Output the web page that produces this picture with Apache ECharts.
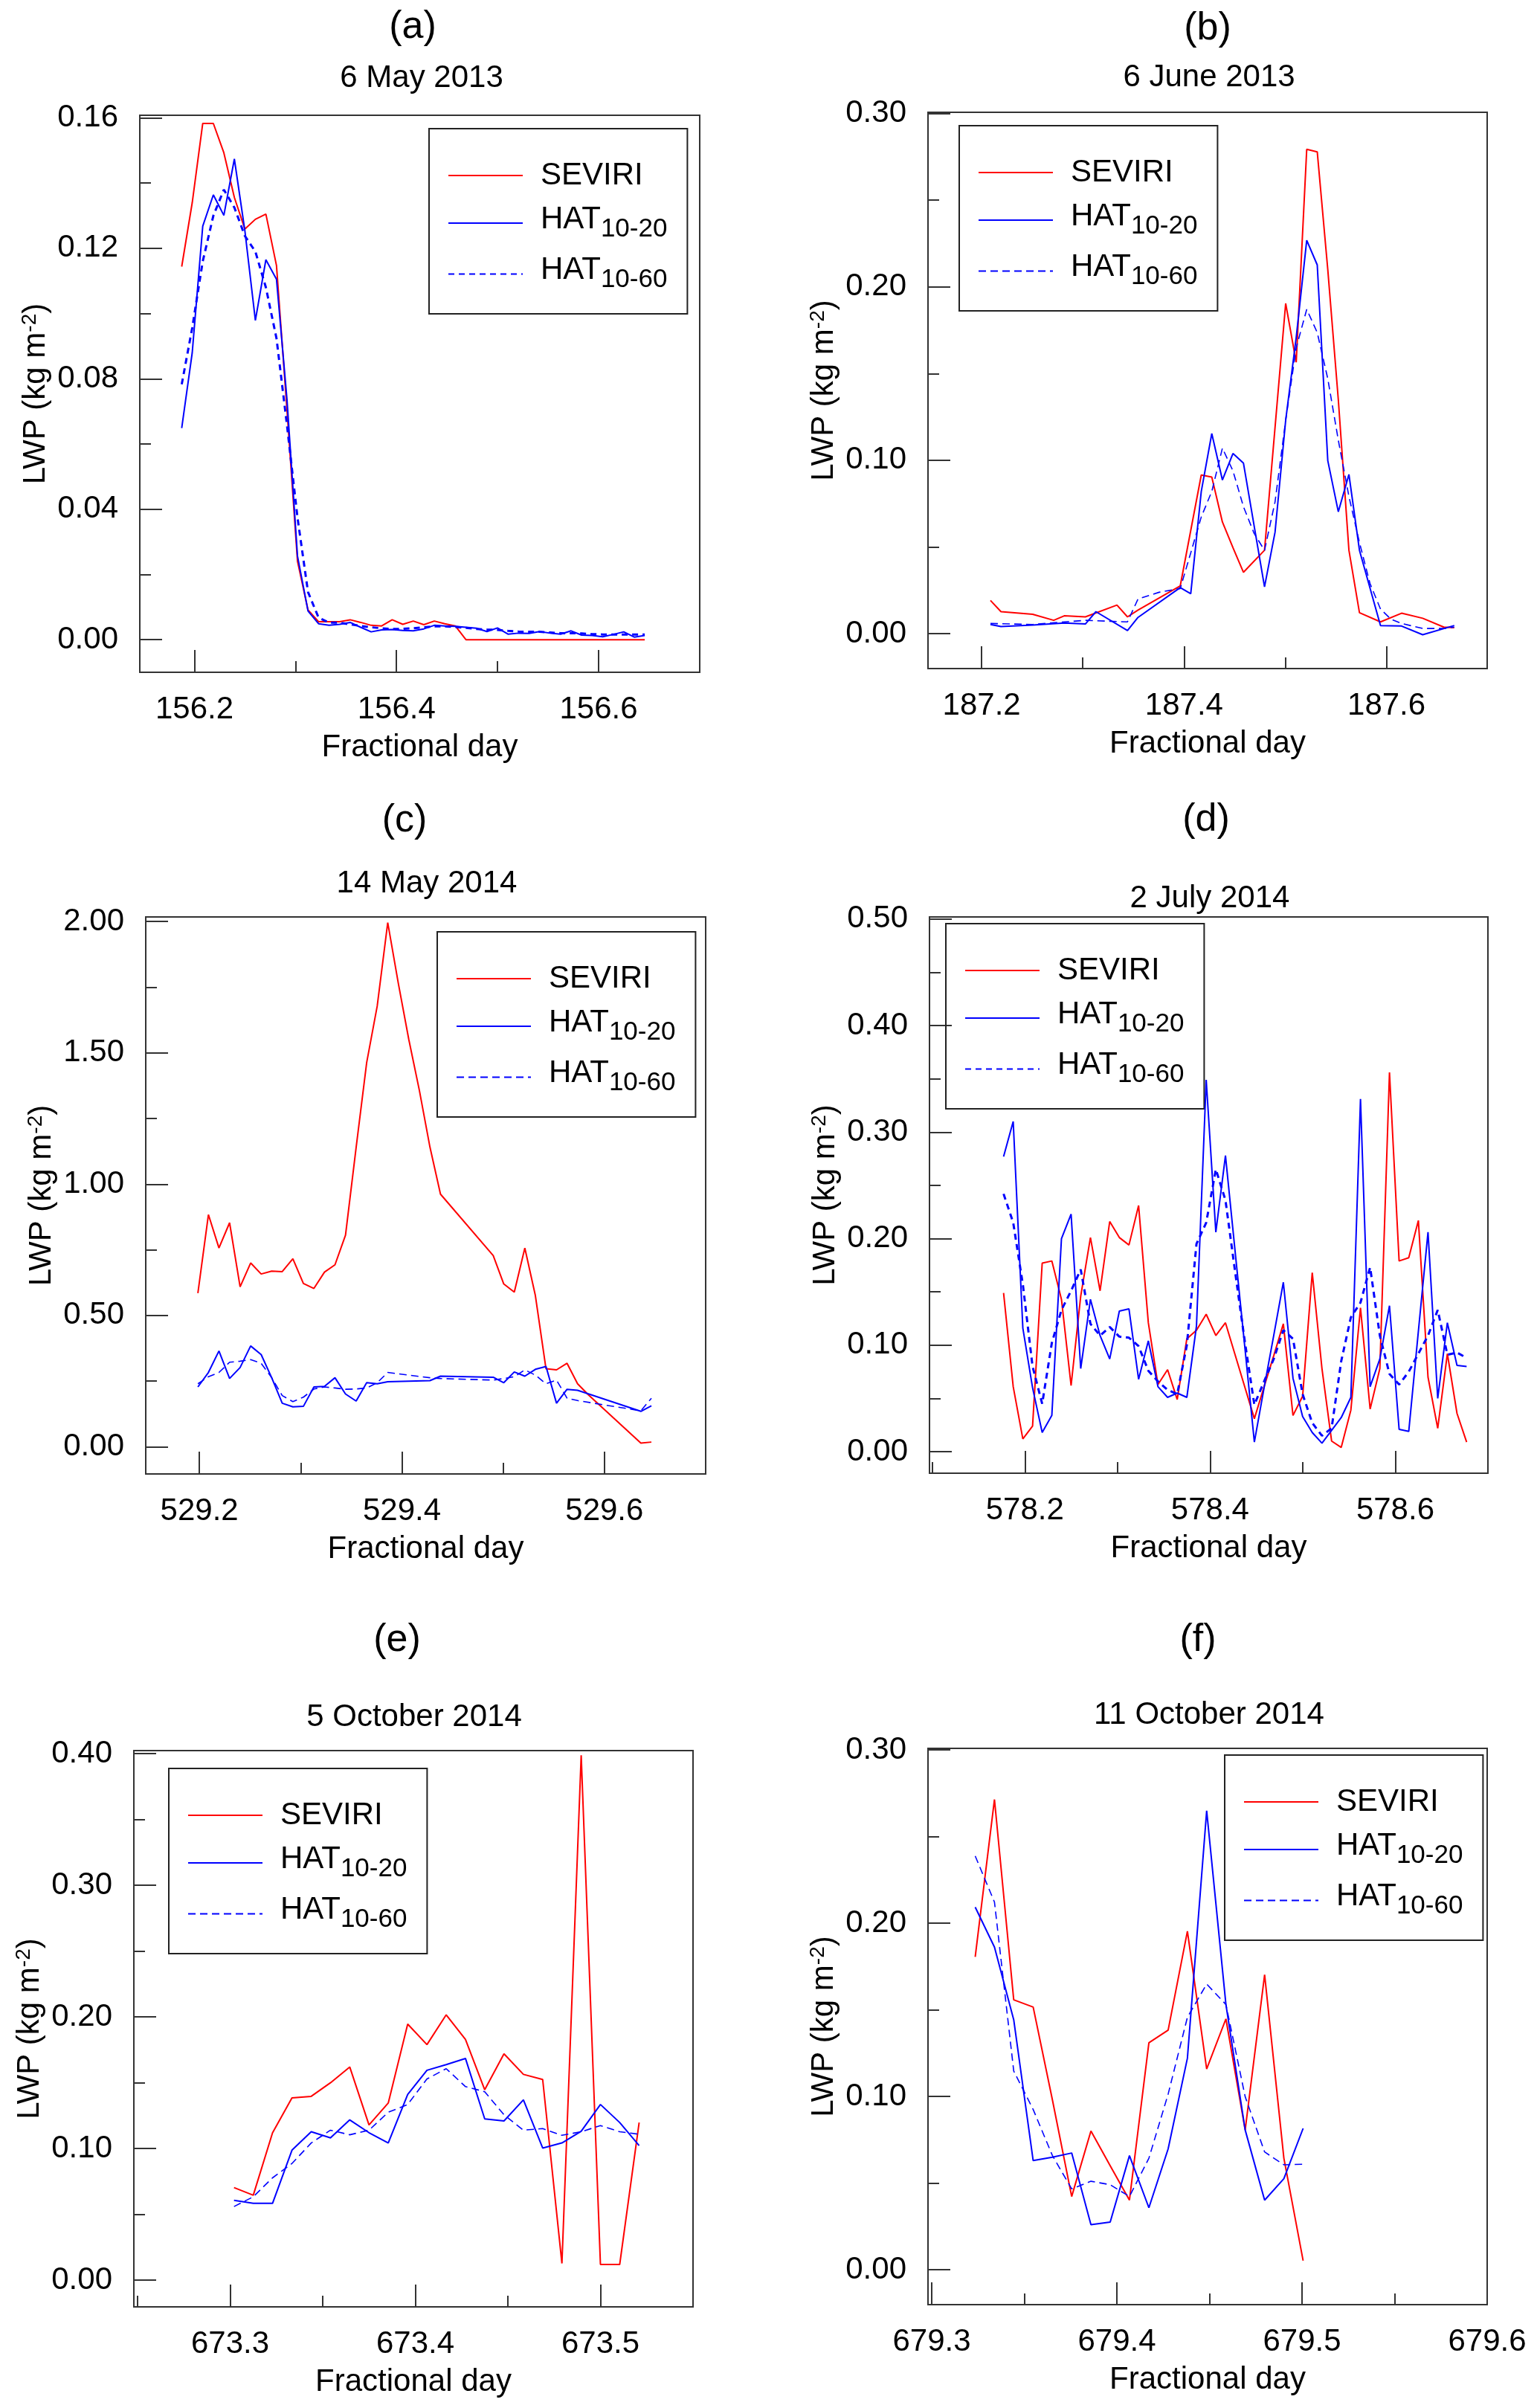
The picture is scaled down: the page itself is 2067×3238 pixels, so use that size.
<!DOCTYPE html>
<html><head><meta charset="utf-8">
<script src="https://cdn.jsdelivr.net/npm/echarts@6/dist/echarts.min.js"></script>
<style>html,body{margin:0;padding:0;background:#fff}#c{width:2067px;height:3238px}</style>
</head><body><div id="c"></div>
<script>
// ---------- (a) 6 May 2013 ----------
const aTime = [156.1874,156.1978,156.2082,156.2187,156.2291,156.2395,156.2499,156.2603,156.2707,156.2812,156.2916,156.3020,156.3124,156.3228,156.3332,156.3437,156.3541,156.3645,156.3749,156.3853,156.3957,156.4062,156.4166,156.4270,156.4374,156.4478,156.4582,156.4687,156.4791,156.4895,156.4999,156.5103,156.5207,156.5312,156.5416,156.5520,156.5624,156.5728,156.5832,156.5937,156.6041,156.6145,156.6249,156.6353,156.6457];
const aSeviri = [0.1144,0.134,0.1583,0.1583,0.1493,0.1356,0.1259,0.1289,0.1305,0.1147,0.0704,0.024,0.0091,0.0055,0.0055,0.0055,0.0061,0.0053,0.0044,0.0042,0.0061,0.0047,0.0057,0.0046,0.0057,0.0049,0.0042,0,0,0,0,0,0,0,0,0,0,0,0,0,0,0,0,0,0];
const aHat20 = [0.0649,0.088,0.1268,0.1364,0.1301,0.1474,0.1254,0.0979,0.1165,0.1105,0.0736,0.0256,0.0088,0.0049,0.0044,0.0047,0.0053,0.0038,0.0024,0.003,0.0031,0.0028,0.0027,0.0033,0.0044,0.0042,0.0041,0.0038,0.0035,0.0025,0.0036,0.0017,0.002,0.0019,0.0025,0.002,0.0017,0.0027,0.0014,0.0013,0.0009,0.0016,0.0024,0.0008,0.0013];
const aHat60 = [0.0783,0.0956,0.116,0.130,0.138,0.1325,0.1238,0.119,0.108,0.0924,0.0657,0.0374,0.0146,0.0068,0.0052,0.0052,0.0047,0.0042,0.0038,0.0035,0.0033,0.0033,0.0035,0.0038,0.0041,0.0041,0.0039,0.0036,0.0033,0.0031,0.003,0.0027,0.0025,0.0024,0.0024,0.0022,0.002,0.002,0.0019,0.0017,0.0016,0.0016,0.0016,0.0016,0.0016];
const aXMajor = [156.2,156.4,156.6];
const aXMinor = [156.3,156.5];
const aYMajor = [0,0.04,0.08,0.12,0.16];
const aYMinor = [0.02,0.06,0.10,0.14];

// ---------- (b) 6 June 2013 ----------
const bTimeSev = [187.2087,187.2191,187.2504,187.2712,187.2816,187.3025,187.3337,187.3441,187.3545,187.3962,187.4170,187.4274,187.4379,187.4483,187.4587,187.4795,187.5004,187.5108,187.5212,187.5316,187.5420,187.5524,187.5629,187.5733,187.5941,187.6149,187.6358,187.6566,187.6670];
const bSeviri = [0.0192,0.0127,0.0112,0.0077,0.0103,0.0097,0.0165,0.0097,0.0136,0.0275,0.0915,0.0903,0.0644,0.0496,0.0354,0.0481,0.1904,0.1565,0.2793,0.2778,0.210,0.135,0.0481,0.0121,0.0068,0.0118,0.0089,0.0038,0.0035];
const bTimeH20 = [187.2087,187.2191,187.2504,187.2816,187.3025,187.3129,187.3441,187.3545,187.3962,187.4066,187.4170,187.4274,187.4379,187.4483,187.4587,187.4795,187.4899,187.5004,187.5108,187.5212,187.5316,187.5420,187.5524,187.5629,187.5733,187.5941,187.6149,187.6358,187.6670];
const bHat20 = [0.0053,0.0041,0.0050,0.0062,0.0056,0.0127,0.0018,0.0094,0.0266,0.0230,0.0820,0.1154,0.0886,0.1039,0.0983,0.0270,0.0585,0.1230,0.1707,0.2268,0.2126,0.0998,0.0703,0.0918,0.0481,0.0047,0.0044,-0.0006,0.0047];
const bTimeH60 = [187.2087,187.2504,187.2816,187.3025,187.3441,187.3545,187.3754,187.3962,187.4066,187.4170,187.4274,187.4379,187.4483,187.4587,187.4691,187.4795,187.4899,187.5004,187.5108,187.5212,187.5316,187.5420,187.5524,187.5629,187.5733,187.5837,187.5941,187.6045,187.6149,187.6358,187.6566,187.6670];
const bHat60 = [0.0059,0.0053,0.0068,0.0077,0.0068,0.0200,0.0239,0.0260,0.0466,0.0673,0.0820,0.1070,0.0939,0.0732,0.0580,0.0480,0.0760,0.1230,0.1648,0.1870,0.1736,0.1470,0.1116,0.0791,0.0526,0.0290,0.0142,0.0083,0.0059,0.0030,0.0030,0.0038];
const bXMajor = [187.2,187.4,187.6];
const bXMinor = [187.3,187.5];
const bYMajor = [0,0.1,0.2,0.3];
const bYMinor = [0.05,0.15,0.25];

// ---------- (c) 14 May 2014 ----------
const cTimeSev = [529.1985,529.2089,529.2193,529.2298,529.2402,529.2506,529.2610,529.2714,529.2818,529.2923,529.3027,529.3131,529.3235,529.3339,529.3443,529.3548,529.3652,529.3756,529.3860,529.3964,529.4068,529.4173,529.4277,529.4381,529.4902,529.5006,529.5110,529.5214,529.5318,529.5423,529.5527,529.5631,529.5735,529.5839,529.6360,529.6464];
const cSeviri = [0.585,0.884,0.757,0.853,0.609,0.700,0.658,0.669,0.667,0.716,0.622,0.603,0.665,0.693,0.806,1.14,1.463,1.678,1.996,1.766,1.551,1.356,1.141,0.962,0.728,0.620,0.589,0.757,0.576,0.297,0.293,0.318,0.240,0.199,0.014,0.018];
const cTimeHat = [529.1985,529.2089,529.2193,529.2298,529.2402,529.2506,529.2610,529.2714,529.2818,529.2923,529.3027,529.3131,529.3235,529.3339,529.3443,529.3548,529.3652,529.3756,529.3860,529.4277,529.4381,529.4902,529.5006,529.5110,529.5214,529.5318,529.5423,529.5527,529.5631,529.5735,529.6360,529.6464];
const cHat20 = [0.228,0.283,0.365,0.260,0.302,0.384,0.351,0.263,0.166,0.152,0.154,0.228,0.230,0.263,0.201,0.174,0.244,0.240,0.248,0.252,0.269,0.265,0.244,0.285,0.269,0.295,0.306,0.166,0.219,0.215,0.135,0.156];
const cHat60 = [0.240,0.267,0.283,0.322,0.326,0.332,0.318,0.263,0.195,0.172,0.189,0.220,0.228,0.224,0.219,0.220,0.224,0.244,0.283,0.263,0.260,0.254,0.260,0.267,0.293,0.273,0.240,0.254,0.185,0.176,0.137,0.185];
const cXMajor = [529.2,529.4,529.6];
const cXMinor = [529.3,529.5];
const cYMajor = [0,0.5,1.0,1.5,2.0];
const cYMinor = [0.25,0.75,1.25,1.75];

// ---------- (d) 2 July 2014 ----------
const dTime = [578.1770,578.1874,578.1978,578.2083,578.2187,578.2291,578.2395,578.2499,578.2603,578.2708,578.2812,578.2916,578.3020,578.3124,578.3228,578.3333,578.3437,578.3541,578.3645,578.3749,578.3853,578.3958,578.4062,578.4166,578.4270,578.4374,578.4478,578.4583,578.4687,578.4791,578.4895,578.4999,578.5103,578.5208,578.5312,578.5416,578.5520,578.5624,578.5728,578.5833,578.5937,578.6041,578.6145,578.6249,578.6353,578.6458,578.6562,578.6666,578.6770];
const dSeviri = [0.149,0.061,0.012,0.024,0.177,0.179,0.143,0.062,0.146,0.201,0.151,0.216,0.201,0.194,0.231,0.121,0.063,0.077,0.049,0.106,0.114,0.129,0.109,0.121,0.091,0.061,0.031,0.061,0.090,0.120,0.034,0.052,0.168,0.078,0.010,0.004,0.039,0.135,0.040,0.078,0.356,0.179,0.182,0.217,0.070,0.022,0.092,0.036,0.009];
const dHat20 = [0.277,0.310,0.116,0.060,0.018,0.034,0.200,0.223,0.078,0.143,0.109,0.087,0.132,0.134,0.068,0.104,0.061,0.051,0.055,0.051,0.118,0.349,0.206,0.278,0.188,0.099,0.009,0.060,0.109,0.159,0.069,0.033,0.018,0.008,0.020,0.032,0.051,0.331,0.061,0.087,0.137,0.021,0.019,0.113,0.206,0.050,0.121,0.081,0.080];
const dHat60 = [0.242,0.215,0.157,0.080,0.045,0.102,0.133,0.151,0.171,0.120,0.109,0.117,0.108,0.107,0.099,0.076,0.066,0.058,0.054,0.100,0.195,0.215,0.265,0.236,0.169,0.104,0.044,0.066,0.087,0.114,0.106,0.054,0.027,0.015,0.022,0.085,0.126,0.140,0.173,0.109,0.073,0.063,0.075,0.092,0.109,0.133,0.091,0.093,0.088];
const dXMajor = [578.2,578.4,578.6];
const dXMinor = [578.1,578.3,578.5];
const dYMajor = [0,0.1,0.2,0.3,0.4,0.5];
const dYMinor = [0.05,0.15,0.25,0.35,0.45];

// ---------- (e) 5 October 2014 ----------
const eTime = [673.3021,673.3125,673.3229,673.3334,673.3438,673.3542,673.3646,673.3750,673.3854,673.3959,673.4063,673.4167,673.4271,673.4375,673.4479,673.4584,673.4688,673.4792,673.4896,673.5000,673.5104,673.5209];
const eSeviri = [0.0704,0.0646,0.112,0.1385,0.1397,0.150,0.162,0.118,0.1346,0.1946,0.179,0.2016,0.1829,0.1447,0.172,0.1564,0.1525,0.0128,0.3988,0.012,0.012,0.1198];
const eHat20 = [0.0607,0.0584,0.0584,0.0988,0.1128,0.1082,0.1218,0.1121,0.1043,0.1412,0.1595,0.1638,0.1685,0.1226,0.121,0.137,0.1004,0.1043,0.1132,0.1335,0.1198,0.1023];
const eHat60 = [0.056,0.0634,0.0778,0.0887,0.1043,0.114,0.1105,0.114,0.1276,0.1335,0.1529,0.1607,0.1471,0.1432,0.1257,0.114,0.1152,0.1101,0.1128,0.1175,0.1128,0.1109];
const eXMajor = [673.3,673.4,673.5];
const eXMinor = [673.25,673.35,673.45];
const eYMajor = [0,0.1,0.2,0.3,0.4];
const eYMinor = [0.05,0.15,0.25,0.35];

// ---------- (f) 11 October 2014 ----------
const fTime = [679.3235,679.3339,679.3443,679.3548,679.3652,679.3756,679.3860,679.3964,679.4068,679.4173,679.4277,679.4381,679.4485,679.4589,679.4693,679.4798,679.4902,679.5006];
const fSeviri = [0.1806,0.2714,0.1558,0.1516,0.098,0.0423,0.0801,0.060,0.0402,0.131,0.1383,0.1954,0.1159,0.1448,0.0807,0.1703,0.0644,0.0053];
const fHat20 = [0.2093,0.1862,0.1443,0.063,0.065,0.0674,0.026,0.0275,0.0659,0.0358,0.0698,0.1221,0.2649,0.1531,0.0807,0.0402,0.0526,0.0816];
const fHat60 = [0.2388,0.2122,0.1147,0.0925,0.0659,0.0467,0.0511,0.0491,0.0423,0.0644,0.1014,0.1457,0.1649,0.1531,0.0999,0.068,0.0606,0.0609];
const fXMajor = [679.3,679.4,679.5,679.6];
const fXMinor = [679.35,679.45,679.55];
const fYMajor = [0,0.1,0.2,0.3];
const fYMinor = [0.05,0.15,0.25];

const panelLetters = ['(a)','(b)','(c)','(d)','(e)','(f)'];
const panelDates = ['6 May 2013','6 June 2013','14 May 2014','2 July 2014','5 October 2014','11 October 2014'];

// ---------- layout & styling ----------
const F = "'Liberation Sans', Arial, Helvetica, sans-serif";
const pair = (xs, ys) => xs.map((x, i) => [x, ys[i]]);

const panels = [
  {id:'a', grid:[188,155,753,749], x:[156.1459,156.7001], y:[-0.0100,0.1608], letter:[555,37], date:[567,105], legend:[577,173], bold:true,
   sev:pair(aTime,aSeviri), h20:pair(aTime,aHat20), h60:pair(aTime,aHat60), xMaj:aXMajor, xMin:aXMinor, yMaj:aYMajor, yMin:aYMinor},
  {id:'b', grid:[1248,151,752,748], x:[187.147,187.6995], y:[-0.0201,0.3006], letter:[1624,39], date:[1626,104], legend:[1290,169], bold:false,
   sev:pair(bTimeSev,bSeviri), h20:pair(bTimeH20,bHat20), h60:pair(bTimeH60,bHat60), xMaj:bXMajor, xMin:bXMinor, yMaj:bYMajor, yMin:bYMinor},
  {id:'c', grid:[196,1233,753,749], x:[529.147,529.70], y:[-0.1034,2.0176], letter:[544,1104], date:[574,1188], legend:[588,1253], bold:false,
   sev:pair(cTimeSev,cSeviri), h20:pair(cTimeHat,cHat20), h60:pair(cTimeHat,cHat60), xMaj:cXMajor, xMin:cXMinor, yMaj:cYMajor, yMin:cYMinor},
  {id:'d', grid:[1250,1233,751,748], x:[578.097,578.70], y:[-0.0202,0.5019], letter:[1622,1103], date:[1627,1208], legend:[1272,1242], bold:true,
   sev:pair(dTime,dSeviri), h20:pair(dTime,dHat20), h60:pair(dTime,dHat60), xMaj:dXMajor, xMin:dXMinor, yMaj:dYMajor, yMin:dYMinor},
  {id:'e', grid:[180,2354,752,748], x:[673.248,673.55], y:[-0.0202,0.4023], letter:[534,2206], date:[557,2309], legend:[227,2378], bold:false,
   sev:pair(eTime,eSeviri), h20:pair(eTime,eHat20), h60:pair(eTime,eHat60), xMaj:eXMajor, xMin:eXMinor, yMaj:eYMajor, yMin:eYMinor},
  {id:'f', grid:[1248,2351,752,748], x:[679.298,679.6], y:[-0.0201,0.3009], letter:[1611,2206], date:[1626,2306], legend:[1647,2360], bold:false,
   sev:pair(fTime,fSeviri), h20:pair(fTime,fHat20), h60:pair(fTime,fHat60), xMaj:fXMajor, xMin:fXMinor, yMaj:fYMajor, yMin:fYMinor}
];

const TICK = '#333';
const grid = [], xAxis = [], yAxis = [], series = [], legend = [], graphic = [];
const legendText = {
  SEVIRI: '{q|SEVIRI}',
  H20: '{m|HAT}{s|10-20}',
  H60: '{m|HAT}{s|10-60}'
};

panels.forEach((p, k) => {
  grid.push({left:p.grid[0], top:p.grid[1], width:p.grid[2], height:p.grid[3], show:true,
    borderColor:'#333', borderWidth:2, backgroundColor:'transparent', containLabel:false});
  xAxis.push({type:'value', gridIndex:k, min:p.x[0], max:p.x[1], position:'bottom',
    axisLine:{show:false, onZero:false}, splitLine:{show:false},
    axisTick:{show:true, inside:true, length:30, customValues:p.xMaj, lineStyle:{color:TICK, width:2}},
    axisLabel:{show:true, customValues:p.xMaj, formatter:v => v.toFixed(1), margin:29, fontSize:42, fontFamily:F, color:'#000'},
    name:'Fractional day', nameLocation:'middle', nameGap:80,
    nameTextStyle:{fontSize:42, fontFamily:F, color:'#000'}});
  xAxis.push({type:'value', gridIndex:k, min:p.x[0], max:p.x[1], position:'bottom',
    axisLine:{show:false, onZero:false}, splitLine:{show:false},
    axisTick:{show:true, inside:true, length:15, customValues:p.xMin, lineStyle:{color:TICK, width:2}},
    axisLabel:{show:false}});
  yAxis.push({type:'value', gridIndex:k, min:p.y[0], max:p.y[1], position:'left',
    axisLine:{show:false, onZero:false}, splitLine:{show:false},
    axisTick:{show:true, inside:true, length:30, customValues:p.yMaj, lineStyle:{color:TICK, width:2}},
    axisLabel:{show:true, customValues:p.yMaj, formatter:v => v.toFixed(2), margin:29, fontSize:42, fontFamily:F, color:'#000'},
    name:'{n|LWP (kg m}{p|-2}{n|)}', nameLocation:'middle', nameGap:119, nameRotate:90,
    nameTextStyle:{fontFamily:F, color:'#000', rich:{
      n:{fontSize:42, fontFamily:F, color:'#000', lineHeight:46, verticalAlign:'bottom'},
      p:{fontSize:28, fontFamily:F, color:'#000', height:34, verticalAlign:'top'}}}});
  yAxis.push({type:'value', gridIndex:k, min:p.y[0], max:p.y[1], position:'left',
    axisLine:{show:false, onZero:false}, splitLine:{show:false},
    axisTick:{show:true, inside:true, length:15, customValues:p.yMin, lineStyle:{color:TICK, width:2}},
    axisLabel:{show:false}});

  const base = {type:'line', xAxisIndex:2*k, yAxisIndex:2*k, symbol:'none', showSymbol:false, animation:false, clip:true};
  series.push(Object.assign({}, base, {name:p.id+':SEVIRI', data:p.sev, z:3,
    lineStyle:{color:'#ff0000', width:2}, itemStyle:{color:'#ff0000'}}));
  series.push(Object.assign({}, base, {name:p.id+':H20', data:p.h20, z:4,
    lineStyle:{color:'#0000ff', width:2}, itemStyle:{color:'#0000ff'}}));
  series.push(Object.assign({}, base, {name:p.id+':H60', data:p.h60, z:5,
    lineStyle:{color:'#0000ff', width:p.bold ? 3 : 1.6, type:p.bold ? [8,6] : [10,6]}, itemStyle:{color:'#0000ff'}}));

  legend.push({data:[p.id+':SEVIRI', p.id+':H20', p.id+':H60'], orient:'vertical',
    left:p.legend[0], top:p.legend[1], itemWidth:100, itemHeight:14, itemGap:17,
    padding:[42,27,28,25], borderColor:'#222', borderWidth:2, backgroundColor:'transparent',
    selectedMode:false, itemStyle:{opacity:0},
    formatter:name => legendText[name.split(':')[1]],
    textStyle:{fontFamily:F, color:'#000', rich:{
      q:{fontSize:42, fontFamily:F, color:'#000', lineHeight:52, verticalAlign:'middle', padding:[0,0,0,19]},
      m:{fontSize:42, fontFamily:F, color:'#000', lineHeight:52, verticalAlign:'top', padding:[0,0,0,19]},
      s:{fontSize:35, fontFamily:F, color:'#000', height:36, verticalAlign:'bottom'}}}});

  graphic.push({type:'text', x:p.letter[0], y:p.letter[1], style:{text:panelLetters[k], fontSize:52, fontFamily:F, fill:'#000', align:'center', verticalAlign:'middle'}});
  graphic.push({type:'text', x:p.date[0], y:p.date[1], style:{text:panelDates[k], fontSize:42, fontFamily:F, fill:'#000', align:'center', verticalAlign:'middle'}});
});

const chart = echarts.init(document.getElementById('c'), null, {renderer:'canvas', width:2067, height:3238});
chart.setOption({backgroundColor:'#fff', animation:false, grid, xAxis, yAxis, series, legend, graphic});
</script>
</body></html>
